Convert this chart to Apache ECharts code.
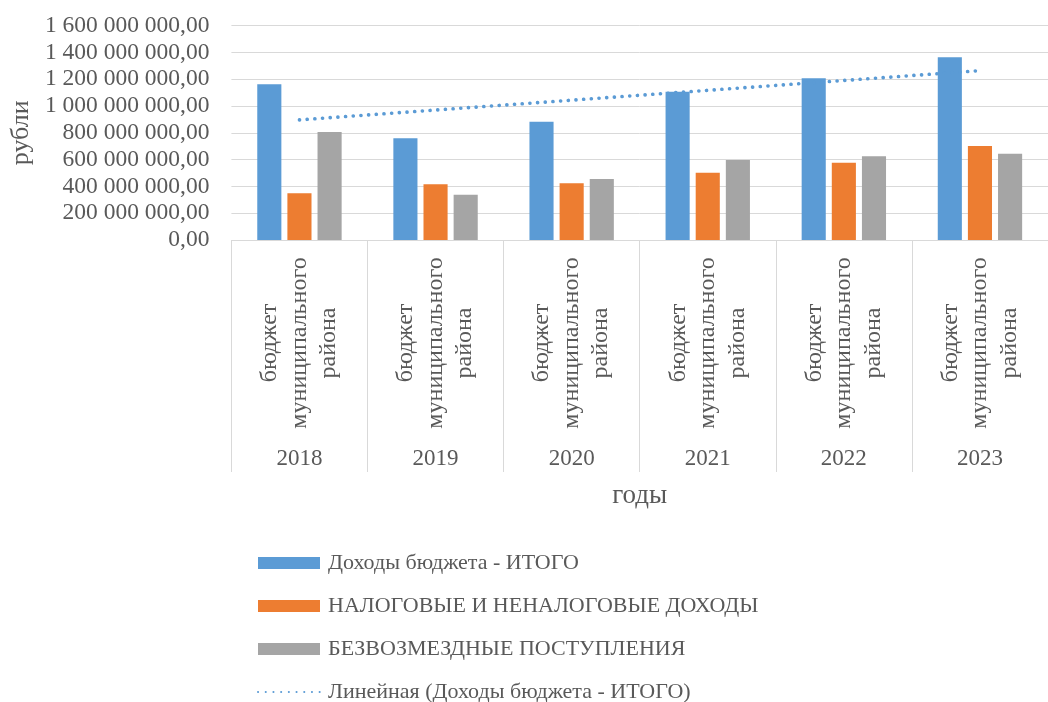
<!DOCTYPE html>
<html><head><meta charset="utf-8">
<script src="https://cdn.jsdelivr.net/npm/echarts@6/dist/echarts.min.js"></script>
<style>html,body{margin:0;padding:0;background:#fff}#c{width:1048px;height:702px}</style>
</head><body><div id="c"></div>
<script>
const years = ['2018','2019','2020','2021','2022','2023'];
const subCategory = 'бюджет\nмуниципального\nрайона';
const seriesNames = ['Доходы бюджета - ИТОГО','НАЛОГОВЫЕ И НЕНАЛОГОВЫЕ ДОХОДЫ','БЕЗВОЗМЕЗДНЫЕ ПОСТУПЛЕНИЯ','Линейная (Доходы бюджета - ИТОГО)'];
const totalIncome = [1162000000, 759000000, 883000000, 1107000000, 1207000000, 1363000000];
const taxIncome = [348000000, 416000000, 423000000, 502000000, 577000000, 701000000];
const grants = [806000000, 338000000, 455000000, 597000000, 625000000, 644000000];
const yTicks = {min: 0, max: 1600000000, interval: 200000000};

// linear trend (least squares) of total income, as Excel's "Линейная" trendline
function linearTrend(v){
  const n=v.length; let sx=0,sy=0,sxy=0,sxx=0;
  v.forEach((y,i)=>{sx+=i;sy+=y;sxy+=i*y;sxx+=i*i;});
  const b=(n*sxy-sx*sy)/(n*sxx-sx*sx), a=(sy-b*sx)/n;
  return v.map((_,i)=>a+b*i);
}
const trend = linearTrend(totalIncome);

function fmt(v){
  const s=Math.round(v).toString().replace(/\B(?=(\d{3})+(?!\d))/g,' ');
  return s+',00';
}
const FONT='"Liberation Serif","Times New Roman",serif';
const TXT='#595959';
const chart=echarts.init(document.getElementById('c'),null,{renderer:'canvas'});
chart.setOption({
  animation:false,
  backgroundColor:'#fff',
  textStyle:{fontFamily:FONT},
  grid:{left:230,right:-12,top:25.6,bottom:462,containLabel:false},
  legend:{
    orient:'vertical',left:257,top:552,padding:0,height:180,
    itemWidth:62,itemHeight:12,itemGap:21,
    textStyle:{fontFamily:FONT,fontSize:22,lineHeight:22,color:TXT,padding:[0,0,0,3]},
    data:[
      {name:seriesNames[0],icon:'rect'},
      {name:seriesNames[1],icon:'rect'},
      {name:seriesNames[2],icon:'rect'},
      {name:seriesNames[3],itemStyle:{opacity:0}}
    ]
  },
  xAxis:[{
    type:'category',data:years,position:'bottom',
    axisLine:{lineStyle:{color:'#d9d9d9',width:1}},
    axisTick:{show:true,length:232,lineStyle:{color:'#d9d9d9',width:1}},
    axisLabel:{formatter:()=>subCategory,rotate:90,align:'center',verticalAlign:'middle',
      margin:103,fontFamily:FONT,fontSize:24,color:TXT,lineHeight:29.5,padding:[24,0,0,0]},
    splitLine:{show:false}
  },{
    type:'category',data:years,position:'bottom',
    axisLine:{show:false},axisTick:{show:false},
    axisLabel:{margin:207,fontFamily:FONT,fontSize:23,color:TXT},
    name:'годы',nameLocation:'middle',nameGap:242,
    nameTextStyle:{fontFamily:FONT,fontSize:27,color:TXT}
  }],
  yAxis:{
    type:'value',min:yTicks.min,max:yTicks.max,interval:yTicks.interval,
    axisLine:{show:false},axisTick:{show:false},
    splitLine:{lineStyle:{color:'#d9d9d9',width:1}},
    axisLabel:{formatter:fmt,margin:22,fontFamily:FONT,fontSize:23.5,color:TXT},
    name:'рубли',nameLocation:'middle',nameGap:196,nameRotate:90,
    nameTextStyle:{fontFamily:FONT,fontSize:26,color:TXT}
  },
  series:[
    {name:seriesNames[0],type:'bar',xAxisIndex:0,data:totalIncome,barGap:'25%',barCategoryGap:'38%',itemStyle:{color:'#5b9bd5'}},
    {name:seriesNames[1],type:'bar',xAxisIndex:0,data:taxIncome,itemStyle:{color:'#ed7d31'}},
    {name:seriesNames[2],type:'bar',xAxisIndex:0,data:grants,itemStyle:{color:'#a5a5a5'}},
    {name:seriesNames[3],type:'line',xAxisIndex:0,data:trend,symbol:'none',z:5,
      lineStyle:{color:'#5b9bd5',width:3.6,type:[0.1,7.6],cap:'round'},itemStyle:{color:'#5b9bd5'}}
  ]
});
</script></body></html>
